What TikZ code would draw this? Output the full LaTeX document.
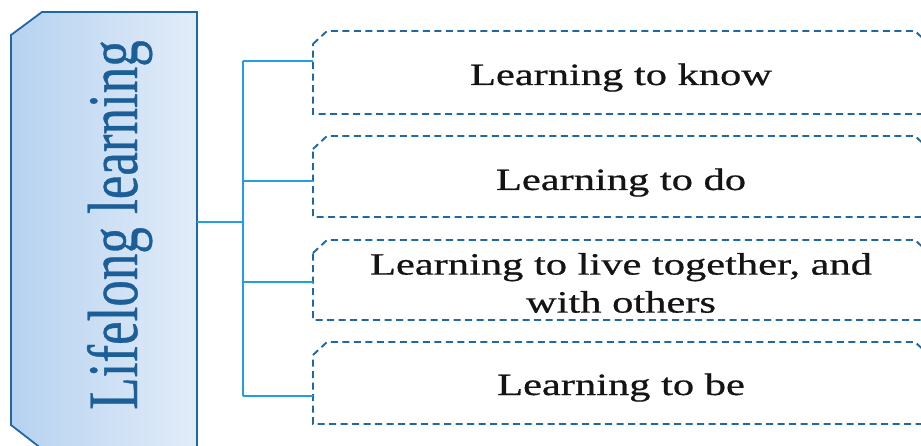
\documentclass[tikz,border=0pt]{standalone}
\usepackage{fontspec}
\setmainfont{Liberation Serif}
\newfontfamily\heavyserif{Liberation Serif}[FakeBold=0.6]
\definecolor{edgeblue}{HTML}{1F68A3}
\definecolor{linkblue}{HTML}{229FDF}
\definecolor{fillA}{HTML}{B6D2F0}
\definecolor{fillB}{HTML}{E2ECF8}
\definecolor{titleblue}{HTML}{1B5E98}
\begin{document}
\begin{tikzpicture}[x=1pt,y=-1pt,
  link/.style={draw=linkblue, line width=1.8pt},
  dbox/.style={draw=edgeblue, line width=1.9pt, dash pattern=on 7pt off 4.5pt},
  boxtext/.style={anchor=base, inner sep=0pt, xscale=1.37, align=center,
    font=\heavyserif\fontsize{31}{38}\selectfont, text=black!92},
  titletext/.style={anchor=base, inner sep=0pt, xscale=1.34, rotate=90,
    font=\heavyserif\fontsize{53}{60}\selectfont, text=titleblue}]
\useasboundingbox (0,0) rectangle (921,446);
% left panel
\shadedraw[left color=fillA, right color=fillB, draw=edgeblue, line width=1.8pt]
  (197,12) -- (42,12) -- (11,35) -- (11,425) -- (42,449) -- (197,449) -- cycle;
\node[titletext] (title) at (137,225) {Lifelong learning};
% dashed boxes
\foreach \t/\b in {31/114, 136/217, 240/320, 342/424}{
  \draw[dbox] (313,\t+13) -- (327,\t) -- (915,\t) -- (929,\t+13) -- (929,\b) -- (313,\b) -- cycle;
}
\node[boxtext] (k1) at (621,85) {Learning to know};
\node[boxtext] (k2) at (621,190) {Learning to do};
\node[boxtext, anchor=center] (k3) at (621,283) {Learning to live together, and\\ with others};
\node[boxtext] (k4) at (621,395) {Learning to be};
% connectors
\coordinate (hub) at (197,222);
\coordinate (bar) at (243,222);
\coordinate (t1) at (243,61);
\coordinate (t2) at (243,181);
\coordinate (t3) at (243,282);
\coordinate (t4) at (243,396);
\coordinate (b1) at (313,61);
\coordinate (b2) at (313,181);
\coordinate (b3) at (313,282);
\coordinate (b4) at (313,396);
\draw[link] (hub) -- (bar);
\draw[link] (t1) -- (t4);
\draw[link] (t1) -- (b1);
\draw[link] (t2) -- (b2);
\draw[link] (t3) -- (b3);
\draw[link] (t4) -- (b4);
\end{tikzpicture}
\end{document}
